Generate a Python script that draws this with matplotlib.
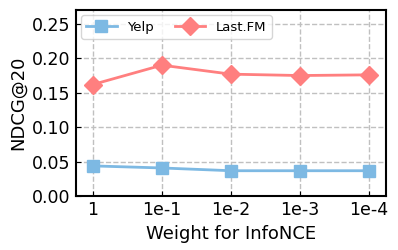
import matplotlib
matplotlib.use('Agg')
import matplotlib.pyplot as plt
import numpy as np

# data
weights = ['1', '1e-1', '1e-2', '1e-3', '1e-4']
yelp = [0.044, 0.041, 0.037, 0.037, 0.037]
lastfm = [0.162, 0.190, 0.177, 0.175, 0.176]

fig, ax = plt.subplots(figsize=(3.98, 2.5), dpi=100)
x = np.arange(len(weights))

ax.plot(x, yelp, marker='s', color='#7db9e3', lw=2, markersize=9, label='Yelp')
ax.plot(x, lastfm, marker='D', color='#ff7f7f', lw=2, markersize=9, label='Last.FM')

ax.set_xticks(x)
ax.set_xticklabels(weights)
ax.set_xlim(-0.25, 4.25)
ax.set_ylim(0, 0.27)
ax.set_yticks([0, 0.05, 0.10, 0.15, 0.20, 0.25])
ax.set_yticklabels(['0.00', '0.05', '0.10', '0.15', '0.20', '0.25'])
ax.tick_params(direction='in', labelsize=12.5)
ax.grid(True, linestyle='--', color='#c0c0c0', lw=1)
ax.set_axisbelow(True)
for s in ax.spines.values():
    s.set_linewidth(1.5)

ax.set_xlabel('Weight for InfoNCE', fontsize=13)
ax.set_ylabel('NDCG@20', fontsize=13)
ax.legend(loc='upper left', ncol=2, fontsize=9.5, handlelength=2.3, columnspacing=1.6,
          borderaxespad=0.4)

plt.subplots_adjust(left=0.19, right=0.97, bottom=0.215, top=0.96)
plt.savefig('out.png', dpi=100)
